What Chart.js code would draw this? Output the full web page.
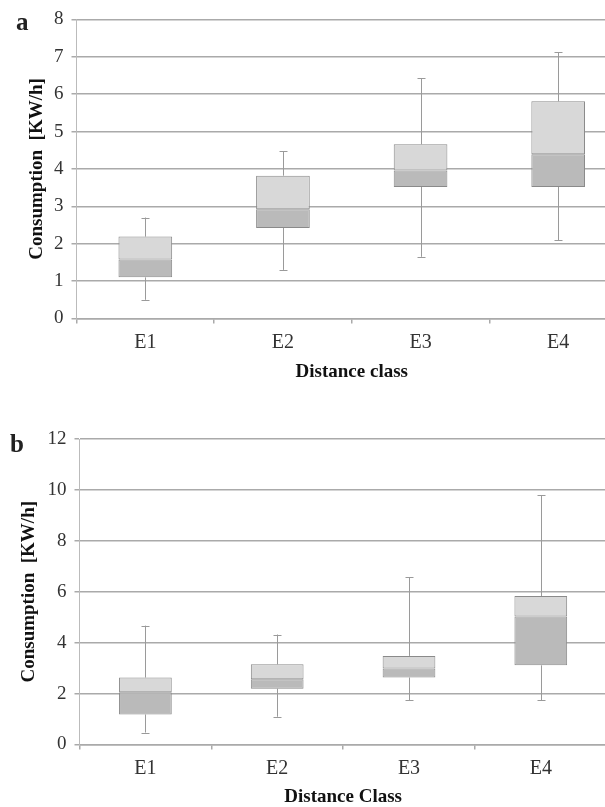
<!DOCTYPE html>
<html>
<head>
<meta charset="utf-8">
<script src="https://cdn.jsdelivr.net/npm/chart.js@4.4.1/dist/chart.umd.min.js"></script>
<style>
  html, body { margin: 0; padding: 0; background: #fff; width: 605px; height: 807px; overflow: hidden; }
  .panel { position: absolute; left: 0; }
  .tag { position: absolute; font-family: "Liberation Serif", "Times New Roman", serif; font-weight: bold; font-size: 25px; color: #222; }
</style>
</head>
<body>
<div class="panel" style="top:0"><canvas id="chartA" width="630" height="392"></canvas></div>
<div class="panel" style="top:400px"><canvas id="chartB" width="630" height="412"></canvas></div>
<div class="tag" style="left:16px; top:8px">a</div>
<div class="tag" style="left:10px; top:430px">b</div>
<script>
var classes = ['E1', 'E2', 'E3', 'E4'];

// panel a
var minA = [0.5, 1.3, 1.65, 2.1];
var q1A  = [1.1, 2.42, 3.52, 3.52];
var medA = [1.58, 2.92, 3.96, 4.39];
var q3A  = [2.19, 3.82, 4.66, 5.81];
var maxA = [2.7, 4.48, 6.42, 7.12];

// panel b
var minB = [0.47, 1.09, 1.74, 1.74];
var q1B  = [1.18, 2.19, 2.63, 3.11];
var medB = [2.05, 2.56, 2.99, 5.03];
var q3B  = [2.63, 3.15, 3.48, 5.83];
var maxB = [4.67, 4.32, 6.57, 9.8];

var serif = '"Liberation Serif", "Times New Roman", serif';

// whiskers, drawn through the scales
var whiskers = {
	id: 'whiskers',
	beforeDatasetsDraw: function(chart) {
		var w = chart.options.plugins.whiskers;
		var x = chart.scales.x, y = chart.scales.y, ctx = chart.ctx;
		ctx.save();
		ctx.strokeStyle = '#9a9a9a';
		ctx.lineWidth = 1;
		for (var i = 0; i < w.lo.length; i++) {
			var px = Math.round(x.getPixelForValue(i)) + 0.5;
			var segs = [[w.lo[i], w.q1[i]], [w.q3[i], w.hi[i]]];
			ctx.beginPath();
			segs.forEach(function(s) {
				ctx.moveTo(px, y.getPixelForValue(s[0]));
				ctx.lineTo(px, y.getPixelForValue(s[1]));
			});
			[w.lo[i], w.hi[i]].forEach(function(v) {
				var py = Math.round(y.getPixelForValue(v)) + 0.5;
				ctx.moveTo(px - 4, py);
				ctx.lineTo(px + 4, py);
			});
			ctx.stroke();
		}
		ctx.restore();
	}
};

function pairs(a, b) {
	var out = [];
	for (var i = 0; i < a.length; i++) out.push([a[i], b[i]]);
	return out;
}

function boxChart(id, lo, q1, med, q3, hi, yMax, step, lay) {
	var ctx = document.getElementById(id).getContext('2d');
	return new Chart(ctx, {
		type: 'bar',
		data: {
			labels: classes,
			datasets: [
			{
				data: pairs(q1, med),
				backgroundColor: '#bababa',
				borderColor: '#8a8a8a',
				borderWidth: 1,
				borderSkipped: false,
				grouped: false,
				barPercentage: lay.bar,
				categoryPercentage: 1
			},
			{
				data: pairs(med, q3),
				backgroundColor: '#d8d8d8',
				borderColor: '#8a8a8a',
				borderWidth: 1,
				borderSkipped: false,
				grouped: false,
				barPercentage: lay.bar,
				categoryPercentage: 1
			}]
		},
		options: {
			responsive: false,
			animation: false,
			devicePixelRatio: 1,
			layout: { padding: { top: lay.top, right: lay.right, left: 0, bottom: 0 } },
			plugins: {
				legend: { display: false },
				tooltip: { enabled: false },
				whiskers: { lo: lo, q1: q1, q3: q3, hi: hi }
			},
			scales: {
				x: {
					grid: { drawOnChartArea: false, drawTicks: true, tickLength: 5, color: '#aaaaaa', lineWidth: 1.5 },
					border: { color: '#aaaaaa', width: 1.5 },
					ticks: { font: { family: serif, size: 20 }, color: '#333', padding: 7 },
					title: { display: true, text: lay.xTitle, color: '#111',
						font: { family: serif, size: 19, weight: 'bold' }, padding: { top: 0, bottom: lay.xtp } },
					afterFit: function(s) { s.height = lay.xh; }
				},
				y: {
					min: 0, max: yMax,
					ticks: { stepSize: step, font: { family: serif, size: 19 }, color: '#333', padding: 8 },
					grid: { color: '#aaaaaa', lineWidth: 1.5, tickLength: 5 },
					border: { color: '#bbbbbb', width: 1 },
					title: { display: true, text: 'Consumption  [KW/h]', color: '#111',
						font: { family: serif, size: 19, weight: 'bold' }, padding: { top: lay.ytp, bottom: 0 } },
					afterFit: function(s) { s.width = lay.left; }
				}
			}
		},
		plugins: [whiskers]
	});
}

boxChart('chartA', minA, q1A, medA, q3A, maxA, 8, 1,
	{ top: 19, right: 3, left: 76.5, xh: 73.5, bar: 0.39, xTitle: 'Distance class', xtp: 8.6, ytp: 25.6 });
boxChart('chartB', minB, q1B, medB, q3B, maxB, 12, 2,
	{ top: 39, right: 23.3, left: 79.5, xh: 67.5, bar: 0.4, xTitle: 'Distance Class', xtp: 3.6, ytp: 17.6 });
</script>
</body>
</html>
